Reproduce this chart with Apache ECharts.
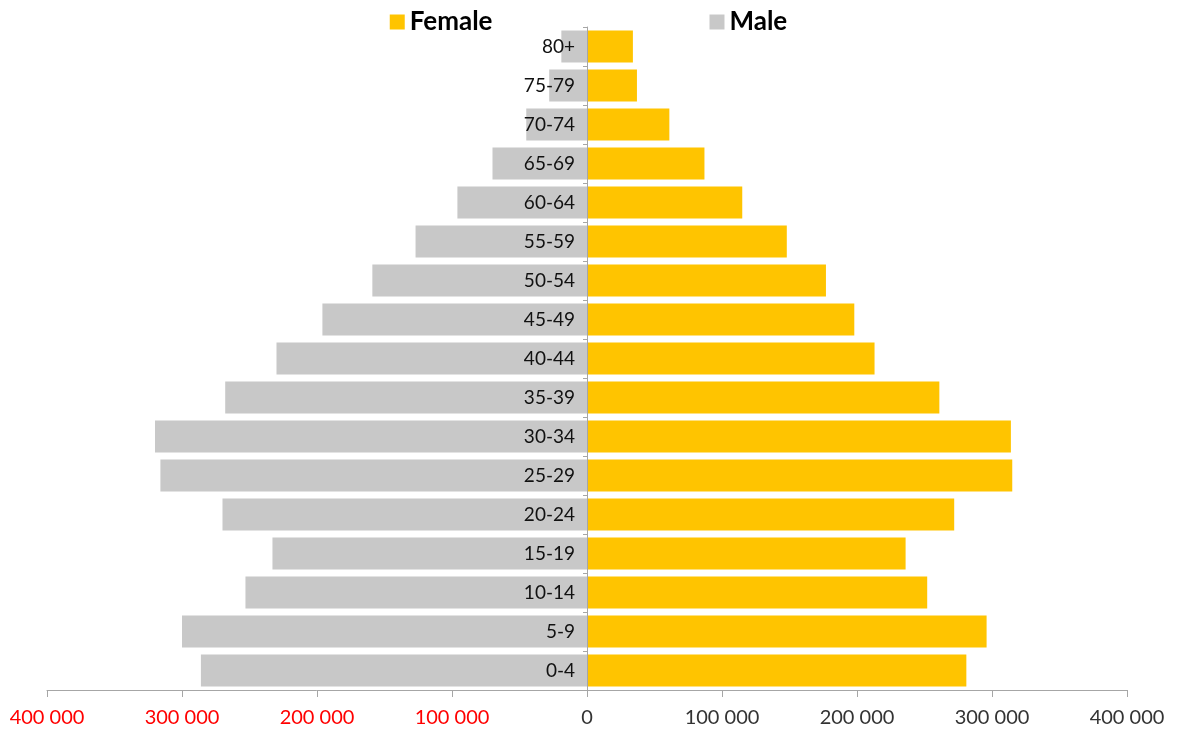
<!DOCTYPE html>
<html>
<head>
<meta charset="utf-8">
<title>Population pyramid</title>
<script src="https://cdn.jsdelivr.net/npm/echarts@6/dist/echarts.min.js"></script>
<style>
  html, body { margin: 0; padding: 0; background: #fff; }
  #chart { width: 1177px; height: 733px; }
</style>
</head>
<body>
<div id="chart"></div>
<script>
// Age groups, bottom to top
const ageGroups = ['0-4', '5-9', '10-14', '15-19', '20-24', '25-29', '30-34', '35-39',
  '40-44', '45-49', '50-54', '55-59', '60-64', '65-69', '70-74', '75-79', '80+'];

// Population by age group
const female = [281000, 296000, 252000, 236000, 272000, 315000, 314000, 261000,
  213000, 198000, 177000, 148000, 115000, 87000, 61000, 37000, 34000];
const male = [286000, 300000, 253000, 233000, 270000, 316000, 320000, 268000,
  230000, 196000, 159000, 127000, 96000, 70000, 45000, 28000, 19000];

// Value axis ticks
const axisMin = -400000;
const axisMax = 400000;
const axisStep = 100000;

const FONT = 'Lato';
const GRID_LEFT = 47;
const GRID_RIGHT = 50;
const CHART_W = 1177;

function fmtThousands(v) {
  const s = String(Math.abs(v));
  return s.replace(/\B(?=(\d{3})+(?!\d))/g, ' ');
}

// shift the category axis from the grid's left edge to the zero line
const plotW = CHART_W - GRID_LEFT - GRID_RIGHT;
const zeroShift = plotW * (0 - axisMin) / (axisMax - axisMin);

const chart = echarts.init(document.getElementById('chart'));
chart.setOption({
  animation: false,
  legend: {
    data: ['Female', 'Male'],
    top: 4,
    left: 'center',
    itemGap: 217,
    itemWidth: 15,
    itemHeight: 15,
    icon: 'rect',
    textStyle: { fontFamily: FONT, fontWeight: 'bold', fontSize: 26, color: '#000' }
  },
  grid: { left: GRID_LEFT, right: GRID_RIGHT, top: 27, bottom: 43, containLabel: false, outerBoundsMode: 'none' },
  xAxis: {
    type: 'value',
    min: axisMin,
    max: axisMax,
    interval: axisStep,
    splitLine: { show: false },
    axisLine: { show: true, lineStyle: { color: '#A6A6A6', width: 1 } },
    axisTick: { show: true, length: 7, lineStyle: { color: '#A6A6A6' } },
    axisLabel: {
      fontFamily: FONT,
      fontSize: 20,
      margin: 18,
      color: v => (v < 0 ? '#FF0000' : '#333'),
      formatter: v => fmtThousands(v)
    }
  },
  yAxis: {
    type: 'category',
    data: ageGroups,
    z: 10,
    position: 'left',
    offset: -zeroShift,
    axisLine: { show: true, onZero: false, lineStyle: { color: '#A6A6A6', width: 1 } },
    axisTick: { show: true, length: 4, lineStyle: { color: '#A6A6A6' } },
    axisLabel: { fontFamily: FONT, fontSize: 19, color: '#111', margin: 12 }
  },
  series: [
    {
      name: 'Male',
      type: 'bar',
      data: male.map(v => -v),
      barCategoryGap: '18%',
      barGap: '-100%',
      itemStyle: { color: '#C8C8C8' }
    },
    {
      name: 'Female',
      type: 'bar',
      data: female,
      barCategoryGap: '18%',
      barGap: '-100%',
      itemStyle: { color: '#FFC400' }
    }
  ]
});
</script>
</body>
</html>
